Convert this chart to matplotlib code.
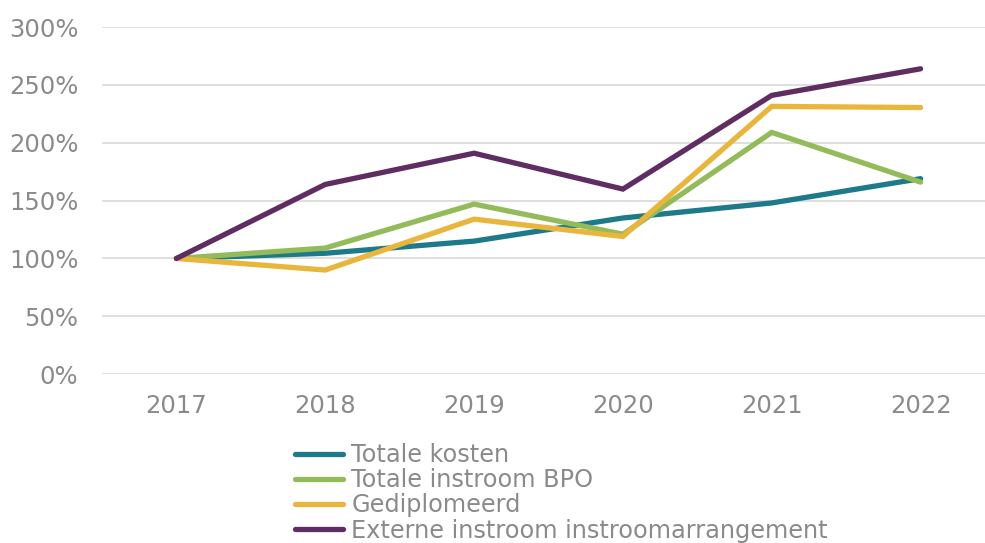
import matplotlib.pyplot as plt

years = ["2017", "2018", "2019", "2020", "2021", "2022"]
totale_kosten = [100, 104.5, 115, 135, 148, 169]
instroom_bpo = [100, 109, 147, 121, 209, 166]
gediplomeerd = [100, 90, 134, 119, 231.5, 230.5]
externe = [100, 164, 191, 160, 241, 264]

labels = ["Totale kosten", "Totale instroom BPO", "Gediplomeerd",
          "Externe instroom instroomarrangement"]
colors = ["#1d7a8a", "#93bb5a", "#e8b63c", "#5f2d62"]
grey = "#8a8a8a"

fig = plt.figure(figsize=(9.85, 5.43), dpi=100)
ax = fig.add_axes([102 / 985, 0.311, 893 / 985, 0.639])

x = range(len(years))
for vals, lab, col in zip([totale_kosten, instroom_bpo, gediplomeerd, externe], labels, colors):
    ax.plot(x, vals, color=col, lw=3.8, label=lab, solid_capstyle="round", solid_joinstyle="miter")

ax.set_xlim(-0.5, 5.5)
ax.set_ylim(0, 300)
ax.set_yticks(range(0, 301, 50))
ax.set_yticklabels([f"{v}%" for v in range(0, 301, 50)])
ax.set_xticks(list(x))
ax.set_xticklabels(years)
ax.grid(axis="y", color="#d9d9d9", lw=1.2)
ax.set_axisbelow(True)
for s in ax.spines.values():
    s.set_visible(False)
ax.tick_params(length=0, labelsize=17.5, colors=grey)
ax.tick_params(axis="x", pad=14)
ax.tick_params(axis="y", pad=17)

fig.legend(loc="upper left", bbox_to_anchor=(295 / 985, 1 - 443 / 543), frameon=False,
           fontsize=17.3, labelcolor=grey, handlelength=2.0, handletextpad=0.35,
           labelspacing=0.05, borderpad=0, borderaxespad=0)

fig.savefig("out.png", dpi=100)
